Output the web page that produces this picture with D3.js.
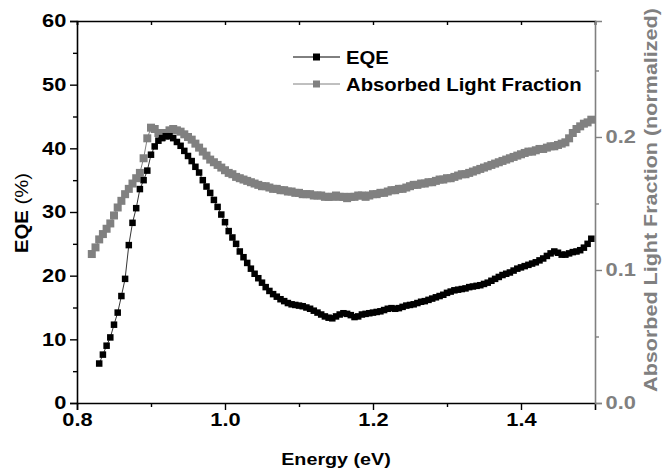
<!DOCTYPE html>
<html><head><meta charset="utf-8">
<script src="https://cdn.jsdelivr.net/npm/d3@7"></script>
<style>body{margin:0;background:#fff}svg{display:block}text{font-family:"Liberation Sans",Arial,sans-serif}</style>
</head><body><svg id="c" width="663" height="472"></svg>
<script>
const xTicks = [0.8, 1.0, 1.2, 1.4];
const yLeftTicks = [0, 10, 20, 30, 40, 50, 60];
const yRightTicks = [0.0, 0.1, 0.2];
const seriesNames = ["EQE", "Absorbed Light Fraction"];

const eqeEnergy = [0.830,0.835,0.840,0.845,0.850,0.855,0.860,0.865,0.870,0.875,0.880,0.885,0.890,0.895,0.900,0.905,0.910,0.915,0.920,0.925,0.930,0.935,0.940,0.945,0.950,0.955,0.960,0.965,0.970,0.975,0.980,0.985,0.990,0.995,1.000,1.005,1.010,1.015,1.020,1.025,1.030,1.035,1.040,1.045,1.050,1.055,1.060,1.065,1.070,1.075,1.080,1.085,1.090,1.095,1.100,1.105,1.110,1.115,1.120,1.125,1.130,1.135,1.140,1.145,1.150,1.155,1.160,1.165,1.170,1.175,1.180,1.185,1.190,1.195,1.200,1.205,1.210,1.215,1.220,1.225,1.230,1.235,1.240,1.245,1.250,1.255,1.260,1.265,1.270,1.275,1.280,1.285,1.290,1.295,1.300,1.305,1.310,1.315,1.320,1.325,1.330,1.335,1.340,1.345,1.350,1.355,1.360,1.365,1.370,1.375,1.380,1.385,1.390,1.395,1.400,1.405,1.410,1.415,1.420,1.425,1.430,1.435,1.440,1.445,1.450,1.455,1.460,1.465,1.470,1.475,1.480,1.485,1.490,1.495];
const eqeValues = [6.2,7.6,9.0,10.3,12.3,14.2,16.8,19.5,24.8,28.3,30.6,33.6,35.0,36.5,39.0,40.3,41.2,41.6,41.9,41.9,41.6,41.0,40.4,39.6,38.8,38.0,37.1,36.2,35.0,34.0,33.0,31.9,30.8,29.6,28.4,27.0,26.0,25.0,23.8,22.9,22.0,21.1,20.3,19.6,18.9,18.2,17.6,17.1,16.7,16.3,16.0,15.7,15.5,15.4,15.3,15.2,15.0,14.8,14.5,14.2,13.9,13.6,13.4,13.3,13.6,13.9,14.1,14.0,13.8,13.5,13.6,13.9,14.0,14.1,14.2,14.3,14.4,14.6,14.8,14.9,14.8,14.9,15.1,15.3,15.4,15.5,15.7,15.9,16.0,16.2,16.4,16.6,16.8,17.0,17.3,17.5,17.7,17.8,17.9,18.0,18.2,18.3,18.4,18.5,18.7,18.9,19.2,19.5,19.8,20.1,20.3,20.5,20.8,21.1,21.3,21.5,21.7,21.9,22.1,22.4,22.7,23.1,23.5,23.8,23.6,23.3,23.3,23.5,23.7,23.8,24.0,24.4,25.0,25.8];

const absEnergy = [0.820,0.825,0.830,0.835,0.840,0.845,0.850,0.855,0.860,0.865,0.870,0.875,0.880,0.885,0.890,0.895,0.900,0.905,0.910,0.915,0.920,0.925,0.930,0.935,0.940,0.945,0.950,0.955,0.960,0.965,0.970,0.975,0.980,0.985,0.990,0.995,1.000,1.005,1.010,1.015,1.020,1.025,1.030,1.035,1.040,1.045,1.050,1.055,1.060,1.065,1.070,1.075,1.080,1.085,1.090,1.095,1.100,1.105,1.110,1.115,1.120,1.125,1.130,1.135,1.140,1.145,1.150,1.155,1.160,1.165,1.170,1.175,1.180,1.185,1.190,1.195,1.200,1.205,1.210,1.215,1.220,1.225,1.230,1.235,1.240,1.245,1.250,1.255,1.260,1.265,1.270,1.275,1.280,1.285,1.290,1.295,1.300,1.305,1.310,1.315,1.320,1.325,1.330,1.335,1.340,1.345,1.350,1.355,1.360,1.365,1.370,1.375,1.380,1.385,1.390,1.395,1.400,1.405,1.410,1.415,1.420,1.425,1.430,1.435,1.440,1.445,1.450,1.455,1.460,1.465,1.470,1.475,1.480,1.485,1.490,1.495];
const absValues = [0.112,0.117,0.123,0.127,0.131,0.135,0.141,0.147,0.152,0.157,0.161,0.165,0.169,0.173,0.184,0.199,0.207,0.206,0.203,0.200,0.203,0.205,0.206,0.205,0.204,0.202,0.200,0.198,0.195,0.192,0.189,0.186,0.183,0.181,0.179,0.177,0.175,0.173,0.172,0.170,0.169,0.168,0.167,0.166,0.165,0.164,0.163,0.163,0.162,0.161,0.161,0.160,0.160,0.159,0.159,0.158,0.158,0.157,0.157,0.157,0.156,0.156,0.156,0.155,0.155,0.155,0.156,0.155,0.155,0.154,0.155,0.155,0.156,0.156,0.155,0.156,0.157,0.157,0.158,0.158,0.159,0.160,0.160,0.161,0.161,0.162,0.163,0.164,0.164,0.165,0.165,0.166,0.166,0.167,0.168,0.168,0.169,0.169,0.170,0.171,0.172,0.172,0.173,0.174,0.175,0.176,0.177,0.178,0.179,0.180,0.181,0.182,0.183,0.184,0.185,0.186,0.187,0.188,0.189,0.189,0.190,0.191,0.191,0.192,0.193,0.193,0.194,0.195,0.196,0.199,0.203,0.206,0.208,0.210,0.211,0.213];

const grey = "#808080";
const svg = d3.select("#c");
const L = 77, R = 595, T = 21, B = 403;
const x = d3.scaleLinear().domain([0.8, 1.5]).range([L, R]);
const yL = d3.scaleLinear().domain([0, 60]).range([B, T]);
const yR = d3.scaleLinear().domain([0, 0.2872]).range([B, T]);
const fs = 18.5, sx = 1.18;

// top axis (inward ticks, no labels)
svg.append("g").attr("transform", `translate(0,${T})`)
  .call(d3.axisTop(x).tickValues(d3.range(8).map(i => 0.8 + i * 0.1)).tickSize(-4).tickFormat(""))
  .call(g => g.select(".domain").attr("stroke-width", 1.6))
  .call(g => g.selectAll(".tick line").attr("stroke-width", 1.4));

// bottom axis
svg.append("g").attr("transform", `translate(0,${B})`)
  .call(d3.axisBottom(x).tickValues([0.9, 1.1, 1.3]).tickSize(4).tickFormat(""))
  .call(g => g.select(".domain").remove())
  .call(g => g.selectAll(".tick line").attr("stroke-width", 1.4));
svg.append("g").attr("transform", `translate(0,${B})`)
  .call(d3.axisBottom(x).tickValues(xTicks).tickSize(7).tickPadding(3).tickFormat(d3.format(".1f")))
  .call(g => g.select(".domain").attr("stroke-width", 1.6))
  .call(g => g.selectAll(".tick line").attr("stroke-width", 1.4))
  .call(g => g.selectAll("text").attr("font-size", fs).attr("font-weight", "bold").attr("fill", "#000").attr("transform", `scale(${sx},1)`));

// left axis
svg.append("g").attr("transform", `translate(${L},0)`)
  .call(d3.axisLeft(yL).tickValues([5, 15, 25, 35, 45, 55]).tickSize(4).tickFormat(""))
  .call(g => g.select(".domain").remove())
  .call(g => g.selectAll(".tick line").attr("stroke-width", 1.4));
svg.append("g").attr("transform", `translate(${L},0)`)
  .call(d3.axisLeft(yL).tickValues(yLeftTicks).tickSize(7).tickPadding(2))
  .call(g => g.select(".domain").attr("stroke-width", 1.6))
  .call(g => g.selectAll(".tick line").attr("stroke-width", 1.4))
  .call(g => g.selectAll("text").attr("font-size", fs).attr("font-weight", "bold").attr("fill", "#000").attr("transform", `scale(${sx},1)`));

// right axis (grey)
svg.append("g").attr("transform", `translate(${R},0)`)
  .call(d3.axisRight(yR).tickValues([0.05, 0.15, 0.25]).tickSize(4).tickFormat(""))
  .call(g => g.select(".domain").remove())
  .call(g => g.selectAll(".tick line").attr("stroke", grey).attr("stroke-width", 1.4));
svg.append("g").attr("transform", `translate(${R},0)`)
  .call(d3.axisRight(yR).tickValues(yRightTicks).tickSize(7).tickPadding(2).tickFormat(d3.format(".1f")))
  .call(g => g.select(".domain").attr("stroke", grey).attr("stroke-width", 1.6))
  .call(g => g.selectAll(".tick line").attr("stroke", grey).attr("stroke-width", 1.4))
  .call(g => g.selectAll("text").attr("font-size", fs).attr("font-weight", "bold").attr("fill", grey).attr("transform", `scale(${sx},1)`));

// axis titles
svg.append("text").attr("transform", `translate(${(L + R) / 2},465) scale(1.16,1)`).attr("text-anchor", "middle")
  .attr("font-size", 17).attr("font-weight", "bold").text("Energy (eV)");
const lt = svg.append("text").attr("transform", `translate(28,213) rotate(-90) scale(1.16,1)`).attr("text-anchor", "middle").attr("font-size", 17.5);
lt.append("tspan").attr("font-weight", "bold").text("EQE ");
lt.append("tspan").text("(%)");
svg.append("text").attr("transform", `translate(657,200) rotate(-90) scale(1.23,1)`).attr("text-anchor", "middle")
  .attr("font-size", 17.5).attr("font-weight", "bold").attr("fill", grey).text("Absorbed Light Fraction (normalized)");

// absorbed series
const absData = absEnergy.map((e, i) => [e, absValues[i]]);
svg.append("path").datum(absData).attr("fill", "none").attr("stroke", grey).attr("stroke-width", 1)
  .attr("d", d3.line().x(d => x(d[0])).y(d => yR(d[1])));
svg.append("g").selectAll("rect").data(absData).join("rect")
  .attr("x", d => x(d[0]) - 4).attr("y", d => yR(d[1]) - 4).attr("width", 8).attr("height", 8).attr("fill", grey);

// EQE series
const eqeData = eqeEnergy.map((e, i) => [e, eqeValues[i]]);
svg.append("path").datum(eqeData).attr("fill", "none").attr("stroke", "#000").attr("stroke-width", 0.8)
  .attr("d", d3.line().x(d => x(d[0])).y(d => yL(d[1])));
svg.append("g").selectAll("rect").data(eqeData).join("rect")
  .attr("x", d => x(d[0]) - 3.25).attr("y", d => yL(d[1]) - 3.25).attr("width", 6.5).attr("height", 6.5).attr("fill", "#000");

// legend
const leg = svg.append("g");
const legY = [57, 84];
const legCol = ["#000", grey];
seriesNames.forEach((n, i) => {
  leg.append("line").attr("x1", 293).attr("x2", 340).attr("y1", legY[i]).attr("y2", legY[i])
    .attr("stroke", legCol[i]).attr("stroke-width", 1);
  leg.append("rect").attr("x", 313).attr("y", legY[i] - 3.5).attr("width", 7).attr("height", 7).attr("fill", legCol[i]);
  leg.append("text").attr("transform", `translate(346,${legY[i] + 6.5}) scale(1.16,1)`).attr("font-size", 17.5).attr("font-weight", "bold").text(n);
});
</script></body></html>
